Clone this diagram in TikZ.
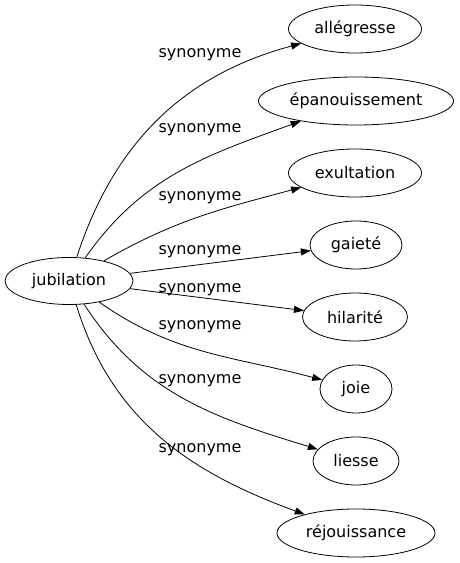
\documentclass[tikz,border=0pt]{standalone}
\usepackage{fontspec}
\setmainfont{DejaVu Sans}
\usetikzlibrary{shapes.geometric,arrows.meta}
\begin{document}
\begin{tikzpicture}[x=1pt, y=1pt, font=\fontsize{16}{19}\selectfont,
    >={Triangle[length=10pt, width=7pt]}, line width=0.8pt,
    word/.style={ellipse, draw, inner sep=0pt, minimum height=48pt}]
    \useasboundingbox (0,0) rectangle (459,563);
    \node [word, minimum width=128pt, minimum height=47pt] (jub) at (69,282) {jubilation};
    \node [word, minimum width=133pt] (alle) at (355,534) {allégresse};
    \node [word, minimum width=195pt] (epan) at (356,462) {épanouissement};
    \node [word, minimum width=133pt] (exul) at (355,390) {exultation};
    \node [word, minimum width=92pt] (gaie) at (356,318) {gaieté};
    \node [word, minimum width=105pt] (hila) at (355,246) {hilarité};
    \node [word, minimum width=72pt] (joie) at (356,174) {joie};
    \node [word, minimum width=86pt] (lies) at (356,102) {liesse};
    \node [word, minimum width=158pt] (rejo) at (356,30) {réjouissance};
    \node (syn1) at (200,508) {synonyme};
    \node (syn2) at (200,433) {synonyme};
    \node (syn3) at (200,365) {synonyme};
    \node (syn4) at (200,311) {synonyme};
    \node (syn5) at (200,273) {synonyme};
    \node (syn6) at (200,236) {synonyme};
    \node (syn7) at (200,182) {synonyme};
    \node (syn8) at (200,113) {synonyme};
    \path[->] (jub) edge [out=72, in=195] (alle);
    \path[->] (jub) edge [out=55, in=200] (epan);
    \path[->] (jub) edge [out=30, in=195] (exul);
    \path[->] (jub) edge (gaie);
    \path[->] (jub) edge (hila);
    \path[->] (jub) edge [out=-35, in=165] (joie);
    \path[->] (jub) edge [out=-57, in=163] (lies);
    \path[->] (jub) edge [out=-73, in=160] (rejo);
\end{tikzpicture}
\end{document}
